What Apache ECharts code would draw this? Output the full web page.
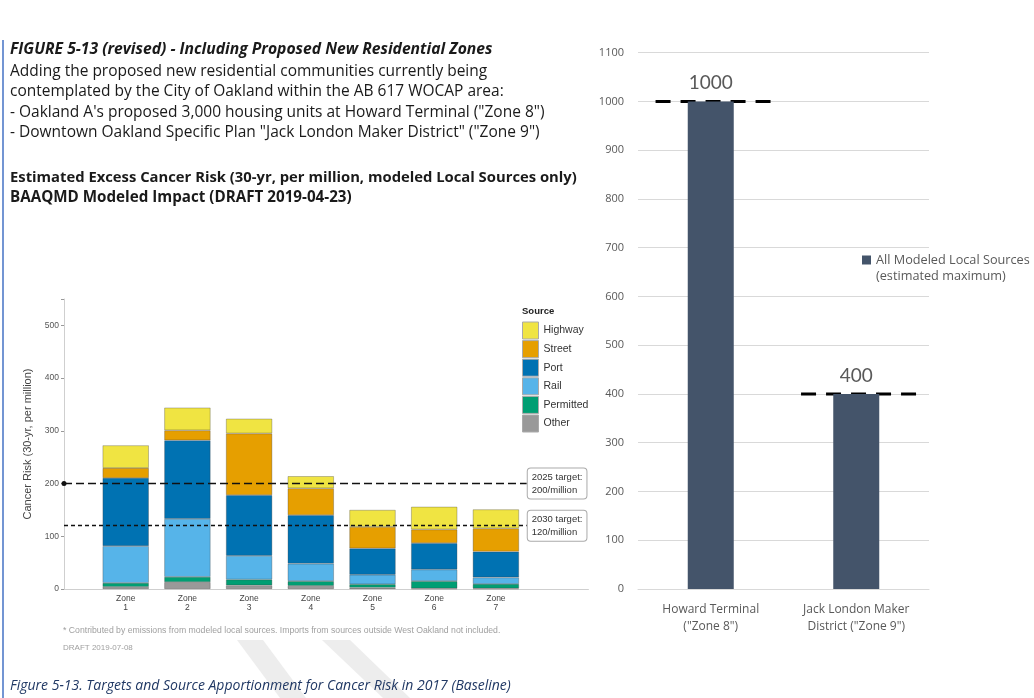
<!DOCTYPE html>
<html>
<head>
<meta charset="utf-8">
<script src="https://cdn.jsdelivr.net/npm/echarts@6/dist/echarts.min.js"></script>
<style>
  html, body { margin: 0; padding: 0; background: #fff; }
  #chart { width: 1034px; height: 698px; }
</style>
</head>
<body>
<div id="chart"></div>
<script>
// left panel: stacked cancer risk by zone (per million)
const zones = ["Zone 1", "Zone 2", "Zone 3", "Zone 4", "Zone 5", "Zone 6", "Zone 7"];
const other = [4, 13, 7, 6, 2.5, 1, 1];
const permitted = [7.5, 10, 11, 9, 6.5, 14, 8.5];
const rail = [70, 110, 45, 33, 18, 22, 12.5];
const port = [129, 149, 115, 92, 50, 50, 49];
const street = [19, 19, 117, 51, 41, 26, 44];
const highway = [43, 43, 28, 23, 32, 43, 36];
const targetValues = [200, 120];
const targetLabels = ["2025 target:\n200/million", "2030 target:\n120/million"];

// right panel: new residential zones
const sites = ['Howard Terminal\n("Zone 8")', 'Jack London Maker\nDistrict ("Zone 9")'];
const estMax = [1000, 400];

const headerLines = [
  "FIGURE 5-13 (revised) - Including Proposed New Residential Zones",
  "Adding the proposed new residential communities currently being",
  "contemplated by the City of Oakland within the AB 617 WOCAP area:",
  "- Oakland A's proposed 3,000 housing units at Howard Terminal (\"Zone 8\")",
  "- Downtown Oakland Specific Plan \"Jack London Maker District\" (\"Zone 9\")",
  "Estimated Excess Cancer Risk (30-yr, per million, modeled Local Sources only)",
  "BAAQMD Modeled Impact (DRAFT 2019-04-23)"
];

const chart = echarts.init(document.getElementById("chart"));

const sources = [
  { name: "Other", data: other, color: "#999999" },
  { name: "Permitted", data: permitted, color: "#009E73" },
  { name: "Rail", data: rail, color: "#56B4E9" },
  { name: "Port", data: port, color: "#0072B2" },
  { name: "Street", data: street, color: "#E69F00" },
  { name: "Highway", data: highway, color: "#F0E442" }
];

// bars live in grid 2 (one band per zone), axes drawn by grid 0
const leftSeries = sources.map((s) => ({
  name: s.name,
  type: "bar",
  stack: "risk",
  xAxisIndex: 2,
  yAxisIndex: 2,
  barWidth: "75%",
  data: s.data,
  itemStyle: { color: s.color, borderColor: "rgba(60,60,60,0.45)", borderWidth: 0.7 },
  emphasis: { disabled: true }
}));

// target lines (2025 long dash, 2030 short dash)
leftSeries.push({
  type: "line",
  xAxisIndex: 0,
  yAxisIndex: 0,
  data: [],
  silent: true,
  markLine: {
    silent: true,
    symbol: "none",
    animation: false,
    data: targetValues.map((t, j) => [
      {
        coord: [0, t],
        symbol: j === 0 ? "circle" : "none",
        symbolSize: 5,
        lineStyle: { color: "#111", width: 1.4, type: j === 0 ? [8, 4] : [4, 3] }
      },
      {
        coord: [7.5, t],
        symbol: "none",
        label: {
          show: true,
          position: "end",
          distance: 1,
          formatter: targetLabels[j],
          fontFamily: "Liberation Sans",
          fontSize: 9.5,
          lineHeight: 13,
          color: "#333",
          backgroundColor: "#fff",
          borderColor: "#aaa",
          borderWidth: 1,
          borderRadius: 3,
          padding: [2, 4]
        }
      }
    ])
  }
});

const headerY = [50, 71.5, 92, 112.5, 133, 178, 198];
const headerFonts = [
  "italic bold 15.7px 'Open Sans'",
  "15.5px 'Open Sans'",
  "15.5px 'Open Sans'",
  "15.5px 'Open Sans'",
  "15.5px 'Open Sans'",
  "bold 14.8px 'Open Sans'",
  "bold 15.2px 'Open Sans'"
];
const graphics = [
  { type: "polygon", z: -1, shape: { points: [[237, 640], [263, 640], [306, 698], [280, 698]] }, style: { fill: "#ededed" } },
  { type: "polygon", z: -1, shape: { points: [[322, 640], [350, 640], [410, 698], [383, 698]] }, style: { fill: "#ededed" } }
];
headerLines.forEach((t, i) => graphics.push({
  type: "text",
  x: 10,
  y: headerY[i],
  style: { text: t, font: headerFonts[i], fill: "#1a1a1a", verticalAlign: "middle" }
}));

graphics.push(
  { type: "line", shape: { x1: 3, y1: 40, x2: 3, y2: 698 }, style: { stroke: "#4472C4", lineWidth: 1.5 } },
  { type: "text", x: 522, y: 311, style: { text: "Source", font: "bold 9.5px 'Liberation Sans'", fill: "#222", verticalAlign: "middle" } },
  { type: "text", x: 63, y: 631, style: { text: "* Contributed by emissions from modeled local sources. Imports from sources outside West Oakland not included.", font: "8.7px 'Liberation Sans'", fill: "#a0a0a0", verticalAlign: "middle" } },
  { type: "text", x: 63, y: 648, style: { text: "DRAFT 2019-07-08", font: "8px 'Liberation Sans'", fill: "#a0a0a0", verticalAlign: "middle" } },
  { type: "text", x: 876, y: 276.5, style: { text: "(estimated maximum)", font: "12.7px 'Open Sans'", fill: "#595959", verticalAlign: "middle" } },
  { type: "text", x: 10, y: 686, style: { text: "Figure 5-13. Targets and Source Apportionment for Cancer Risk in 2017 (Baseline)", font: "italic 14px 'Open Sans'", fill: "#203864", verticalAlign: "middle" } }
);

const bandW = 61.7;

const option = {
  animation: false,
  backgroundColor: "#fff",
  graphic: graphics,
  legend: [
    {
      data: ["Highway", "Street", "Port", "Rail", "Permitted", "Other"],
      orient: "vertical",
      left: 517,
      top: 316.5,
      itemWidth: 16,
      itemHeight: 17,
      itemGap: 0.6,
      icon: "rect",
      selectedMode: false,
      itemStyle: { borderColor: "#aaa", borderWidth: 1 },
      textStyle: { fontFamily: "Liberation Sans", fontSize: 10.5, lineHeight: 12, color: "#333" }
    },
    {
      data: ["All Modeled Local Sources"],
      left: 857,
      top: 248.5,
      itemWidth: 9,
      itemHeight: 9,
      icon: "rect",
      selectedMode: false,
      textStyle: { fontFamily: "Open Sans", fontSize: 12.7, color: "#595959" }
    }
  ],
  grid: [
    { left: 64, top: 299, width: bandW * 8.5, height: 290 },
    { left: 638, top: 52.7, width: 291, height: 536.3 },
    { left: 64 + bandW * 0.5, top: 299, width: bandW * 7, height: 290 }
  ],
  xAxis: [
    {
      type: "value",
      gridIndex: 0,
      min: 0,
      max: 8.5,
      interval: 1,
      splitLine: { show: false },
      axisLine: { show: true, lineStyle: { color: "#cfcfcf", width: 1 } },
      axisTick: { show: false },
      axisLabel: {
        margin: 5,
        fontFamily: "Liberation Sans",
        fontSize: 8.5,
        lineHeight: 9,
        color: "#444",
        formatter: (v) => (v >= 1 && v <= zones.length ? zones[v - 1].replace(" ", "\n") : "")
      }
    },
    {
      type: "category",
      gridIndex: 1,
      data: sites,
      axisLine: { show: true, lineStyle: { color: "#d9d9d9" } },
      axisTick: { show: false },
      axisLabel: { margin: 12, fontFamily: "Open Sans", fontSize: 12, lineHeight: 17, color: "#595959" }
    },
    {
      type: "category",
      gridIndex: 2,
      data: zones,
      show: false
    }
  ],
  yAxis: [
    {
      type: "value",
      gridIndex: 0,
      min: 0,
      max: 550,
      interval: 100,
      name: "Cancer Risk (30-yr, per million)",
      nameLocation: "middle",
      nameGap: 30,
      nameTextStyle: { fontFamily: "Liberation Sans", fontSize: 11, color: "#444" },
      splitLine: { show: false },
      axisLine: { show: true, lineStyle: { color: "#cfcfcf" } },
      axisTick: { show: true, length: 3, lineStyle: { color: "#999" } },
      axisLabel: {
        margin: 5,
        fontFamily: "Liberation Sans",
        fontSize: 8.5,
        color: "#555",
        formatter: (v) => (v % 100 === 0 ? v : "")
      }
    },
    {
      type: "value",
      gridIndex: 1,
      min: 0,
      max: 1100,
      interval: 100,
      axisLine: { show: false },
      axisTick: { show: false },
      splitLine: { lineStyle: { color: "#d9d9d9" } },
      axisLabel: { margin: 14, fontFamily: "Open Sans", fontSize: 11, color: "#595959", formatter: (v) => String(v) }
    },
    {
      type: "value",
      gridIndex: 2,
      min: 0,
      max: 550,
      show: false,
      splitLine: { show: false }
    }
  ],
  series: leftSeries.concat([
    {
      name: "All Modeled Local Sources",
      type: "bar",
      xAxisIndex: 1,
      yAxisIndex: 1,
      barWidth: 46,
      data: estMax,
      itemStyle: { color: "#44546A" },
      label: { show: true, position: "top", distance: 9, fontFamily: "Lato", fontSize: 19, color: "#595959" },
      emphasis: { disabled: true }
    },
    {
      // dashed "estimated maximum" marker over each bar
      type: "custom",
      xAxisIndex: 1,
      yAxisIndex: 1,
      silent: true,
      data: estMax.map((v, i) => [i, v]),
      renderItem: (params, api) => {
        const p = api.coord([api.value(0), api.value(1)]);
        const half = api.size([1, 0])[0] * 0.4;
        return {
          type: "line",
          shape: { x1: p[0] - half + 3, y1: p[1], x2: p[0] + half + 3, y2: p[1] },
          style: { stroke: "#000", lineWidth: 3, lineDash: [15, 10] }
        };
      }
    }
  ])
};

chart.setOption(option);
</script>
</body>
</html>
